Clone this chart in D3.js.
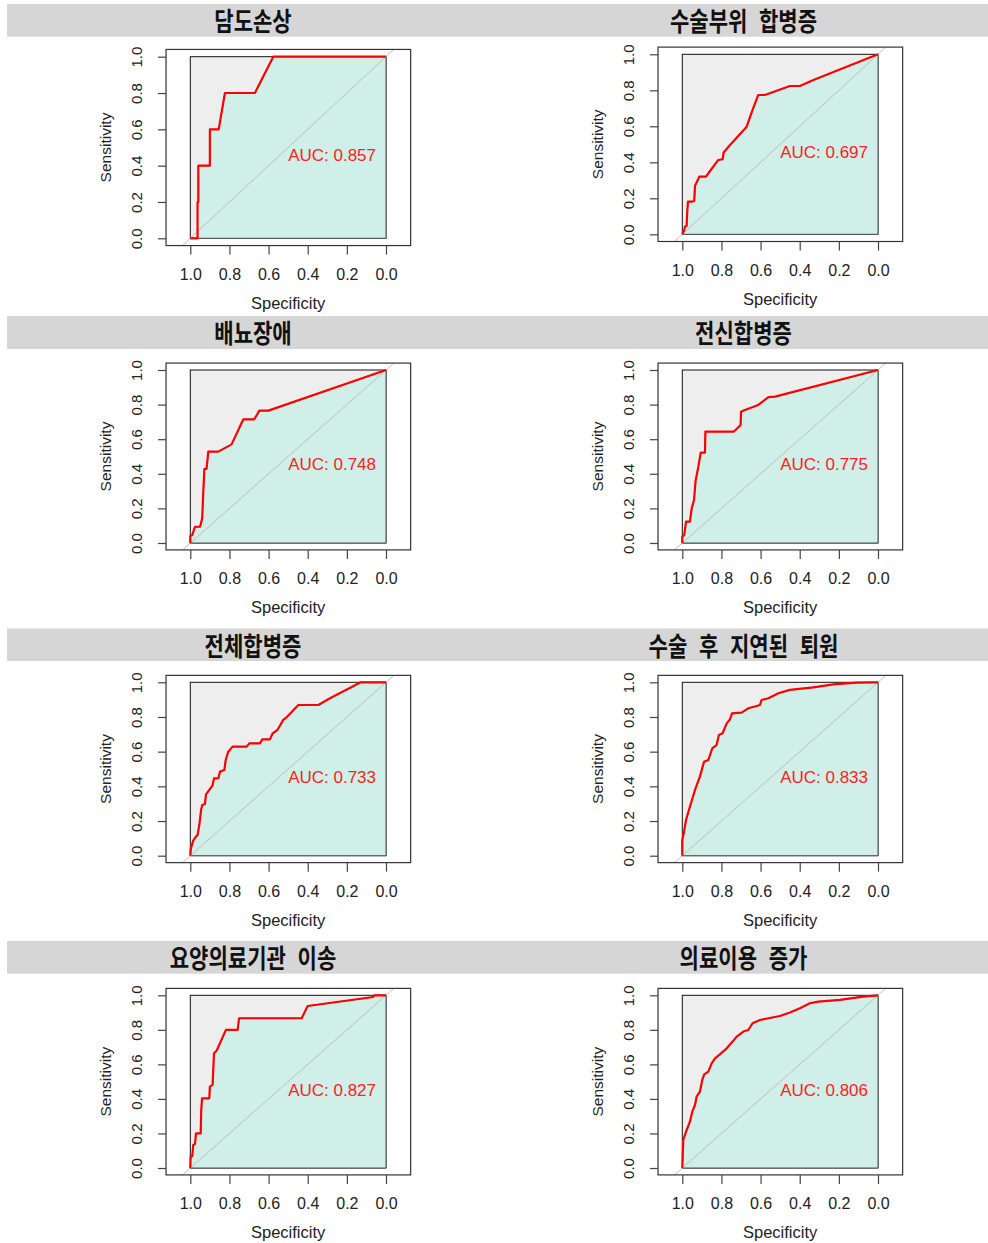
<!DOCTYPE html>
<html>
<head>
<meta charset="utf-8">
<script src="https://cdn.jsdelivr.net/npm/d3@7"></script>
<style>
  html, body { margin: 0; padding: 0; background: #fff; }
  svg { display: block; }
</style>
</head>
<body>
<svg id="chart" width="988" height="1243"></svg>
<script>
// ---------- DATA ----------
const titles = ["담도손상", "수술부위 합병증", "배뇨장애", "전신합병증",
                "전체합병증", "수술 후 지연된 퇴원", "요양의료기관 이송", "의료이용 증가"];
const aucValues = ["0.857", "0.697", "0.748", "0.775", "0.733", "0.833", "0.827", "0.806"];
const specTicks = [1.0, 0.8, 0.6, 0.4, 0.2, 0.0];
const sensTicks = [0.0, 0.2, 0.4, 0.6, 0.8, 1.0];
const specTickLabels = ["1.0", "0.8", "0.6", "0.4", "0.2", "0.0"];
const sensTickLabels = ["0.0", "0.2", "0.4", "0.6", "0.8", "1.0"];

const spec1 = [1, 0.963, 0.963, 0.959, 0.959, 0.9, 0.9, 0.855, 0.823, 0.67, 0.576, 0];
const sens1 = [0, 0, 0.2, 0.2, 0.4, 0.4, 0.6, 0.6, 0.8, 0.8, 1.0, 1.0];

const spec2 = [1, 0.99, 0.986, 0.978, 0.974, 0.971, 0.952, 0.939, 0.935, 0.913, 0.879, 0.848, 0.816, 0.794, 0.789, 0.756, 0.671, 0.641, 0.612, 0.578, 0.45, 0.399, 0.33, 0];
const sens2 = [0, 0.024, 0.043, 0.046, 0.139, 0.181, 0.181, 0.185, 0.27, 0.32, 0.32, 0.367, 0.413, 0.417, 0.454, 0.496, 0.598, 0.691, 0.774, 0.774, 0.824, 0.824, 0.857, 1];

const spec3 = [1, 1, 0.99, 0.976, 0.95, 0.939, 0.934, 0.928, 0.917, 0.908, 0.857, 0.789, 0.729, 0.673, 0.647, 0.601, 0];
const sens3 = [0, 0.04, 0.046, 0.094, 0.094, 0.143, 0.287, 0.428, 0.428, 0.528, 0.528, 0.570, 0.715, 0.715, 0.765, 0.765, 1];

const spec4 = [1, 1, 0.99, 0.981, 0.961, 0.952, 0.94, 0.932, 0.918, 0.906, 0.884, 0.882, 0.736, 0.702, 0.70, 0.68, 0.612, 0.56, 0.526, 0];
const sens4 = [0, 0.037, 0.046, 0.123, 0.123, 0.2, 0.249, 0.36, 0.441, 0.522, 0.522, 0.644, 0.644, 0.682, 0.759, 0.769, 0.798, 0.843, 0.846, 1];

const spec5 = [1, 0.997, 0.985, 0.971, 0.963, 0.954, 0.945, 0.939, 0.925, 0.92, 0.903, 0.886, 0.879, 0.857, 0.848, 0.826, 0.819, 0.806, 0.784, 0.712, 0.698, 0.644, 0.632, 0.593, 0.579, 0.555, 0.525, 0.508, 0.448, 0.346, 0.286, 0.129, 0];
const sens5 = [0, 0.042, 0.087, 0.11, 0.119, 0.177, 0.263, 0.292, 0.298, 0.354, 0.379, 0.406, 0.446, 0.446, 0.485, 0.494, 0.552, 0.60, 0.629, 0.629, 0.648, 0.648, 0.671, 0.671, 0.706, 0.725, 0.783, 0.798, 0.869, 0.869, 0.908, 1.0, 1.0];

const spec6 = [1, 1, 0.991, 0.981, 0.961, 0.935, 0.91, 0.889, 0.867, 0.847, 0.825, 0.813, 0.794, 0.773, 0.756, 0.746, 0.697, 0.663, 0.62, 0.603, 0.595, 0.56, 0.509, 0.45, 0.33, 0.228, 0.109, 0];
const sens6 = [0, 0.09, 0.138, 0.206, 0.283, 0.379, 0.456, 0.542, 0.552, 0.619, 0.638, 0.696, 0.706, 0.763, 0.787, 0.821, 0.825, 0.85, 0.863, 0.869, 0.898, 0.908, 0.937, 0.956, 0.971, 0.988, 0.998, 1];

const spec7 = [1, 0.998, 0.99, 0.985, 0.976, 0.971, 0.947, 0.944, 0.94, 0.903, 0.9, 0.886, 0.879, 0.865, 0.818, 0.758, 0.751, 0.431, 0.4, 0.065, 0.06, 0];
const sens7 = [0, 0.066, 0.069, 0.133, 0.139, 0.2, 0.2, 0.336, 0.403, 0.403, 0.471, 0.481, 0.664, 0.680, 0.80, 0.80, 0.867, 0.867, 0.938, 0.99, 1.0, 1.0];

const spec8 = [1, 0.998, 0.995, 0.981, 0.961, 0.949, 0.935, 0.927, 0.91, 0.898, 0.888, 0.867, 0.85, 0.833, 0.808, 0.773, 0.743, 0.722, 0.688, 0.663, 0.641, 0.603, 0.56, 0.501, 0.45, 0.399, 0.348, 0.305, 0.194, 0.075, 0];
const sens8 = [0, 0.066, 0.162, 0.21, 0.268, 0.326, 0.365, 0.413, 0.442, 0.51, 0.542, 0.558, 0.606, 0.635, 0.658, 0.693, 0.732, 0.761, 0.79, 0.799, 0.838, 0.857, 0.867, 0.88, 0.9, 0.925, 0.954, 0.963, 0.973, 0.992, 1];

const specSeries = [spec1, spec2, spec3, spec4, spec5, spec6, spec7, spec8];
const sensSeries = [sens1, sens2, sens3, sens4, sens5, sens6, sens7, sens8];

// ---------- LAYOUT (styles/positions) ----------
const colInner = [[190.3, 386], [682.3, 878]];           // x of spec 1 / spec 0
const rowInner = [
  [[238.3, 56.7], [234.3, 54.3]],
  [[543, 370], [543, 370]],
  [[855.7, 682.3], [855.7, 682.3]],
  [[1168, 995.3], [1168, 995.3]]
];                                                       // y of sens 0 / sens 1
const titleBars = [[4, 36.7], [316, 349], [628.5, 661], [941, 973.7]];
const titleCx = [253, 743.5];

const svg = d3.select("#chart");

// title bars
titleBars.forEach(([y0, y1]) => {
  svg.append("rect").attr("x", 7).attr("y", y0).attr("width", 981).attr("height", y1 - y0)
    .attr("fill", "#d6d6d6");
});

const FONT = "'Liberation Sans', Arial, sans-serif";

titles.forEach((title, i) => {
  const row = Math.floor(i / 2), col = i % 2;
  const [bx0, bx1] = colInner[col];
  const [by0, by1] = rowInner[row][col];
  const x = d3.scaleLinear().domain([1, 0]).range([bx0, bx1]);
  const y = d3.scaleLinear().domain([0, 1]).range([by0, by1]);

  const oxL = x(1.124), oxR = x(-0.126), oyB = y(-0.04), oyT = y(1.04);
  const g = svg.append("g");

  // title
  const [ty0, ty1] = titleBars[row];
  g.append("text")
    .attr("transform", `translate(${titleCx[col]},${(ty0 + ty1) / 2}) scale(0.81,1)`)
    .attr("text-anchor", "middle").attr("dominant-baseline", "central")
    .attr("font-family", "'Noto Sans CJK KR', sans-serif").attr("font-weight", "bold")
    .attr("word-spacing", 8.5)
    .attr("font-size", 26).attr("fill", "#111").text(title);

  // max AUC polygon (grey box)
  g.append("rect").attr("x", x(1)).attr("y", y(1)).attr("width", x(0) - x(1)).attr("height", y(0) - y(1))
    .attr("fill", "#eeeeee").attr("stroke", "#111").attr("stroke-width", 1);

  const pts = specSeries[i].map((s, k) => [s, sensSeries[i][k]]);

  // AUC polygon
  const poly = pts.concat([[0, 0], [1, 0]]);
  g.append("path")
    .attr("d", d3.line().x(d => x(d[0])).y(d => y(d[1]))(poly) + "Z")
    .attr("fill", "#cfefe8").attr("stroke", "#555").attr("stroke-width", 1);

  // diagonal
  g.append("line").attr("x1", x(1.04)).attr("y1", y(-0.04)).attr("x2", x(-0.04)).attr("y2", y(1.04))
    .attr("stroke", "#bebebe").attr("stroke-width", 1);

  // ROC curve
  g.append("path")
    .attr("d", d3.line().x(d => x(d[0])).y(d => y(d[1]))(pts))
    .attr("fill", "none").attr("stroke", "#ff0000").attr("stroke-width", 2.2)
    .attr("stroke-linejoin", "round");

  // AUC text
  g.append("text").attr("x", x(0.5)).attr("y", y(0.5)).attr("dy", "0.82em")
    .attr("font-family", FONT).attr("font-size", 17).attr("fill", "#ff2020")
    .text("AUC: " + aucValues[i]);

  // outer box
  g.append("rect").attr("x", oxL).attr("y", oyT).attr("width", oxR - oxL).attr("height", oyB - oyT)
    .attr("fill", "none").attr("stroke", "#333").attr("stroke-width", 1.2);

  // x axis
  const xAxis = d3.axisBottom(x).tickValues(specTicks).tickSize(9)
    .tickFormat((d, k) => specTickLabels[k]);
  const gx = g.append("g").attr("transform", `translate(0,${oyB})`).call(xAxis);
  gx.select(".domain").remove();
  gx.selectAll(".tick line").attr("stroke", "#444").attr("stroke-width", 1.2);
  gx.selectAll(".tick text").attr("font-family", FONT).attr("font-size", 16)
    .attr("fill", "#222").attr("y", 0).attr("dy", null).attr("dominant-baseline", "central")
    .attr("transform", "translate(0,29)");

  // y axis
  const yAxis = d3.axisLeft(y).tickValues(sensTicks).tickSize(8)
    .tickFormat((d, k) => sensTickLabels[k]);
  const gy = g.append("g").attr("transform", `translate(${oxL},0)`).call(yAxis);
  gy.select(".domain").remove();
  gy.selectAll(".tick line").attr("stroke", "#444").attr("stroke-width", 1.2);
  gy.selectAll(".tick text").attr("font-family", FONT).attr("font-size", 15)
    .attr("fill", "#222").attr("x", null).attr("dy", null)
    .attr("text-anchor", "middle").attr("dominant-baseline", "central")
    .attr("transform", "translate(-30,0) rotate(-90)");

  // axis titles
  g.append("text").attr("x", (x(1) + x(0)) / 2).attr("y", oyB + 57)
    .attr("text-anchor", "middle").attr("dominant-baseline", "central")
    .attr("font-family", FONT).attr("font-size", 16.5).attr("fill", "#222").text("Specificity");
  g.append("text")
    .attr("transform", `translate(${oxL - 61},${(y(0) + y(1)) / 2}) rotate(-90)`)
    .attr("text-anchor", "middle").attr("dominant-baseline", "central")
    .attr("font-family", FONT).attr("font-size", 15.5).attr("fill", "#222").text("Sensitivity");
});
</script>
</body>
</html>
